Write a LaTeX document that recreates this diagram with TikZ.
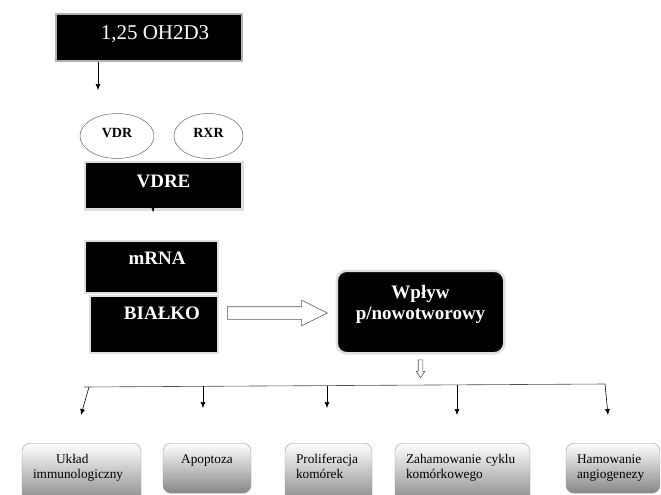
\documentclass[tikz,border=0pt]{standalone}
\usepackage{fontspec}
\setmainfont{Liberation Serif}
\usetikzlibrary{arrows.meta,shapes.geometric,shapes.arrows}

\tikzset{
  czarny/.style={rectangle, fill=black, draw=gray!25, line width=2pt, text=white, inner sep=0pt, font=\fontsize{19}{21}\selectfont\bfseries},
  owal/.style={ellipse, draw=gray!80!black, line width=0.5pt, inner sep=0pt, font=\fontsize{14}{16}\selectfont\bfseries},
  skutek/.style={rectangle, rounded corners=8pt, draw=gray!80, top color=white, bottom color=gray!95, inner xsep=11pt, inner ysep=0pt, align=left, text height=20pt, font=\fontsize{13.3}{15}\selectfont},
  strz/.style={-{Latex[length=6pt,width=5pt]}, line width=0.6pt},
  pusta/.style={single arrow, draw=gray!70!black, fill=white, line width=0.6pt, inner xsep=0pt}
}

\begin{document}
\begin{tikzpicture}[x=1pt, y=-1pt]
    \useasboundingbox (0,0) rectangle (661,495);
    \clip (0,0) rectangle (661,495);
      \node (wit)[czarny, draw=gray!60, minimum width=186pt, minimum height=47pt, text height=26pt, text depth=21pt, font=\fontsize{21}{24}\selectfont] at (149,37.5) {\hspace*{12pt}1,25 OH2D3};
      \node (vdr)[owal, minimum width=74pt, minimum height=45pt, text depth=7pt] at (117,136) {VDR};
      \node (rxr)[owal, minimum width=69pt, minimum height=45pt, text depth=7pt] at (208.5,136) {RXR};
      \node (vdre)[czarny, line width=2.5pt, minimum width=157.5pt, minimum height=47.5pt, text height=25.25pt, text depth=22.25pt] at (163.5,185.5) {VDRE};
      \node (mrna)[czarny, minimum width=133pt, minimum height=52pt, text height=23pt, text depth=29pt] at (151.5,267) {\hspace*{11pt}mRNA};
      \node (bialko)[czarny, minimum width=128pt, minimum height=57pt, text height=23pt, text depth=34pt] at (154,324.5) {\hspace*{16pt}BIAŁKO};
      \node (wplyw)[czarny, line width=2.5pt, rounded corners=10pt, text width=167.5pt, align=center, text height=27.25pt, text depth=55.25pt] at (420.5,312) {Wpływ\\p/nowotworowy};
      \node (blok)[pusta, anchor=tail, minimum height=100pt, minimum width=25pt, inner ysep=6pt, single arrow head extend=6.5pt, single arrow tip angle=53] at (227,313) {};
      \node (mala)[pusta, rotate=-90, anchor=tail, minimum height=18pt, minimum width=8pt, inner ysep=2pt, single arrow head extend=2pt, single arrow tip angle=67] at ([yshift=-5pt]wplyw.south) {};
      \coordinate (k1) at (98,90);
      \coordinate (k2) at (153,212);
      \draw[strz] (wit.south -| k1) -- (k1);
      \draw[strz] (vdre.south -| k2) -- (k2);
      % linia rozdzielajaca
      \coordinate (lewy) at (84,387);
      \coordinate (prawy) at (605,384);
      \draw[line width=0.6pt, gray!60!black] (lewy) -- (prawy);
      \coordinate (s1) at (89,387);   \coordinate (e1) at (81,415);
      \coordinate (s2) at (203,386.3); \coordinate (e2) at (203,408);
      \coordinate (s3) at (327,385.6); \coordinate (e3) at (327,408);
      \coordinate (s4) at (457,384.9); \coordinate (e4) at (457,415);
      \coordinate (e5) at (608,415);
      \draw[strz] (s1) -- (e1);
      \draw[strz] (s2) -- (e2);
      \draw[strz] (s3) -- (e3);
      \draw[strz] (s4) -- (e4);
      \draw[strz] (prawy) -- (e5);
      \node (uklad)[skutek, anchor=north, text width=97pt, text depth=40pt] at (81.5,443) {\hspace*{23pt}Układ\\immunologiczny};
      \node (apo)[skutek, anchor=north, text width=66pt, text depth=30pt, align=center] at (207,443) {Apoptoza};
      \node (prolif)[skutek, anchor=north, text width=65pt, text depth=40pt] at (328.5,443) {Proliferacja\\komórek};
      \node (cykl)[skutek, anchor=north, text width=113pt, text depth=40pt] at (462.5,443) {Zahamowanie cyklu\\komórkowego};
      \node (angio)[skutek, anchor=north, text width=72pt, text depth=30pt] at (613,443) {Hamowanie\\angiogenezy};
    \end{tikzpicture}
\end{document}
